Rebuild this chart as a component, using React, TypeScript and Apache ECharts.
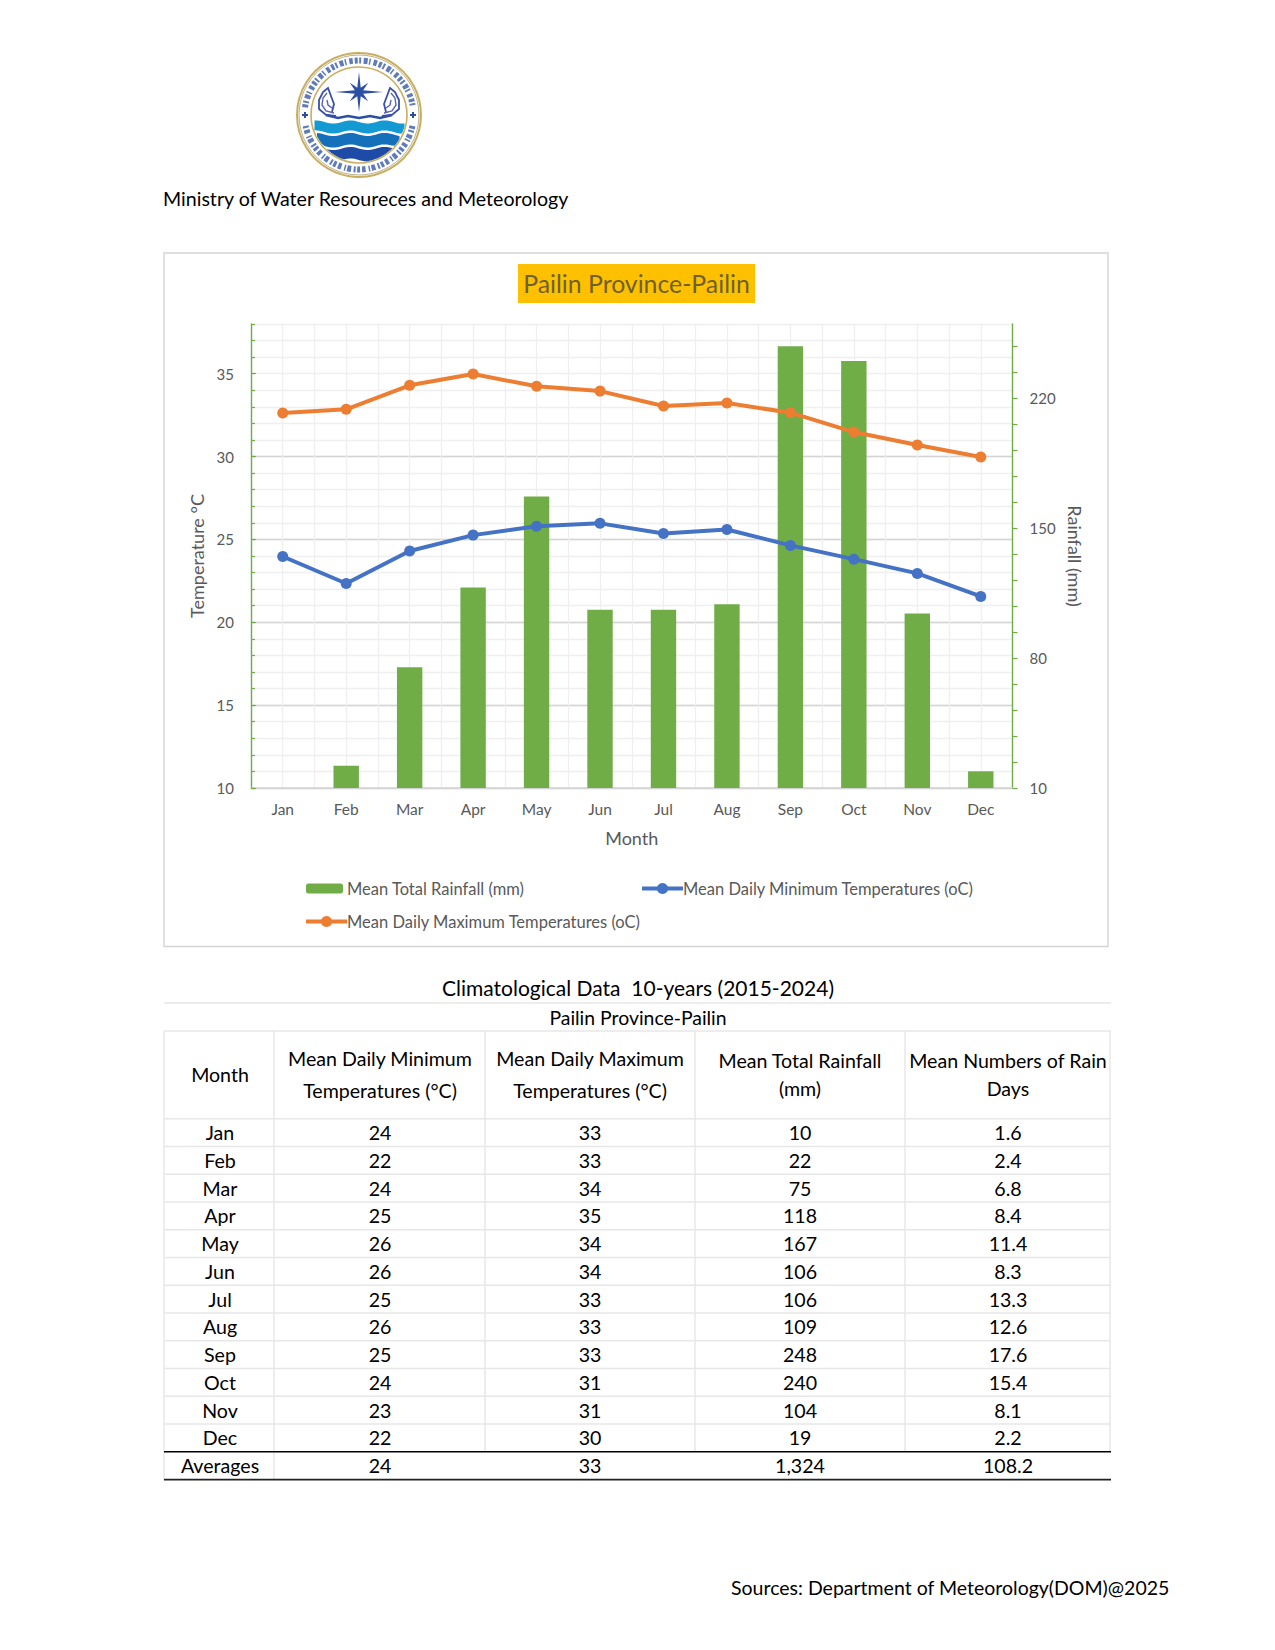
import React, { useEffect, useRef } from "react";
import * as echarts from "echarts";

const FONT = "Lato";
const months = ["Jan", "Feb", "Mar", "Apr", "May", "Jun", "Jul", "Aug", "Sep", "Oct", "Nov", "Dec"];
const rainfall = [10, 22, 75, 118, 167, 106, 106, 109, 248, 240, 104, 19];
const minTemp = [23.97, 22.34, 24.3, 25.26, 25.8, 25.97, 25.36, 25.6, 24.64, 23.81, 22.95, 21.56];
const maxTemp = [32.63, 32.85, 34.3, 34.98, 34.24, 33.95, 33.05, 33.23, 32.65, 31.48, 30.7, 29.97];
const tempLabels = [10, 15, 20, 25, 30, 35];
const rainLabels = [10, 80, 150, 220];
const rainTicks = [10, 24, 38, 52, 66, 80, 94, 108, 122, 136, 150, 164, 178, 192, 206, 220, 234, 248];

const tableMin = ["24", "22", "24", "25", "26", "26", "25", "26", "25", "24", "23", "22"];
const tableMax = ["33", "33", "34", "35", "34", "34", "33", "33", "33", "31", "31", "30"];
const tableRain = ["10", "22", "75", "118", "167", "106", "106", "109", "248", "240", "104", "19"];
const tableDays = ["1.6", "2.4", "6.8", "8.4", "11.4", "8.3", "13.3", "12.6", "17.6", "15.4", "8.1", "2.2"];
const tableAverages = ["Averages", "24", "33", "1,324", "108.2"];

const RAIN_NAME = "Mean Total Rainfall (mm)";
const MIN_NAME = "Mean Daily Minimum Temperatures (oC)";
const MAX_NAME = "Mean Daily Maximum Temperatures (oC)";

const GREEN = "#70AD47";
const ORANGE = "#ED7D31";
const BLUE = "#4472C4";
const GREY = "#595959";
const MAJOR = "#D4D4D4";
const MINOR = "#EFEFEF";
const CELL = "#E7E7E7";

const txt = (text: string, x: number, y: number, size: number, align = "center", fill = "#000000") => ({
  type: "text",
  x,
  y,
  silent: true,
  style: { text, fill, font: `${size}px ${FONT}`, align, verticalAlign: "middle" },
});
const seg = (x1: number, y1: number, x2: number, y2: number, stroke: string, lineWidth: number) => ({
  type: "line",
  silent: true,
  shape: { x1, y1, x2, y2 },
  style: { stroke, lineWidth },
});

function waveBand(top: number, bottom: number, fill: string) {
  const cx = 359;
  const cy = 115;
  const R = 47;
  const upper: number[][] = [];
  const lower: number[][] = [];
  for (let dx = -R; dx <= R; dx += 2.5) {
    const half = Math.sqrt(Math.max(0, R * R - dx * dx));
    const a = Math.max(top + 1.6 * Math.sin(dx / 5.5), cy - half);
    const b = Math.min(bottom + 1.6 * Math.sin(dx / 5.5), cy + half);
    if (a < b) {
      upper.push([cx + dx, a]);
      lower.unshift([cx + dx, b]);
    }
  }
  return { type: "polygon", silent: true, shape: { points: upper.concat(lower) }, style: { fill } };
}

function starPoints(cx: number, cy: number) {
  const pts: number[][] = [];
  for (let i = 0; i < 16; i++) {
    const ang = (i * Math.PI) / 8;
    const rx = i % 4 === 0 ? 24 : i % 2 === 0 ? 13 : 4.5;
    const ry = i % 4 === 0 ? 20 : i % 2 === 0 ? 13 : 4.5;
    pts.push([cx + rx * Math.cos(ang), cy + ry * Math.sin(ang)]);
  }
  return pts;
}

function naga(mirror: boolean) {
  const f = (x: number) => (mirror ? 718 - x : x);
  const shapes = [
    [[336, 116], [326, 115], [319, 109], [319, 100], [323, 92], [328, 88], [331, 96], [334, 104], [332, 112]],
    [[334, 113], [326, 111], [322, 105], [323, 98], [327, 93]],
    [[332, 108], [328, 105], [327, 100]],
  ];
  return shapes.map((pts, i) => ({
    type: "polyline",
    silent: true,
    shape: { points: pts.map((p) => [f(p[0]), p[1]]) },
    style: { stroke: i === 0 ? "#3A4FA8" : "#5A64B8", lineWidth: i === 0 ? 1.8 : 1.4, fill: "none" },
  }));
}

function logo() {
  const cx = 359;
  const cy = 115;
  const navy = "#2B4FA3";
  const plus = (x: number) => [
    { type: "rect", silent: true, shape: { x: x - 3, y: cy - 1, width: 6, height: 2 }, style: { fill: navy } },
    { type: "rect", silent: true, shape: { x: x - 1, y: cy - 3, width: 2, height: 6 }, style: { fill: navy } },
  ];
  const dash = [3, 1.5, 2, 2.5, 4, 1.5, 1.5, 3, 3.5, 2];
  return [
    { type: "circle", silent: true, shape: { cx, cy, r: 62 }, style: { fill: "#fff", stroke: "#C8AE5E", lineWidth: 2 } },
    { type: "circle", silent: true, shape: { cx, cy, r: 60 }, style: { fill: "none", stroke: "#8C7A3C", lineWidth: 0.6 } },
    { type: "arc", silent: true, shape: { cx, cy, r: 54.5, startAngle: -3.0, endAngle: -0.16 }, style: { fill: "none", stroke: navy, lineWidth: 6, lineDash: dash, opacity: 0.75 } },
    { type: "arc", silent: true, shape: { cx, cy, r: 54.5, startAngle: 0.2, endAngle: 2.94 }, style: { fill: "none", stroke: navy, lineWidth: 6, lineDash: dash, opacity: 0.75 } },
    ...plus(cx - 54),
    ...plus(cx + 54),
    { type: "circle", silent: true, shape: { cx, cy, r: 48 }, style: { fill: "#fff", stroke: "#C8AE5E", lineWidth: 1.6 } },
    waveBand(122, 132, "#149AD2"),
    waveBand(134.5, 146, "#1470BA"),
    waveBand(148.5, 160, "#1E4AA8"),
    { type: "polygon", silent: true, shape: { points: starPoints(cx, 92) }, style: { fill: navy } },
    { type: "polyline", silent: true, shape: { points: [[326, 115], [338, 118], [348, 116], [359, 118], [370, 116], [380, 118], [392, 115]] }, style: { stroke: navy, lineWidth: 2.6, fill: "none" } },
    ...naga(false),
    ...naga(true),
  ];
}

function tableGraphics() {
  const cols = [164, 274, 485, 695, 905, 1110];
  const centers = [220, 380, 590, 800, 1008];
  const right = 1111;
  const headerBottom = 1118.7;
  const rowH = 27.75;
  const rowsBottom = headerBottom + rowH * 12;
  const avgBottom = rowsBottom + 28;
  const size = 19.6;
  const out: any[] = [];
  out.push(seg(164, 1003, right, 1003, CELL, 1.5));
  out.push(seg(164, 1031, right, 1031, CELL, 1.5));
  out.push(seg(164, headerBottom, right, headerBottom, CELL, 1.5));
  for (let i = 1; i < 12; i++) out.push(seg(164, headerBottom + rowH * i, right, headerBottom + rowH * i, CELL, 1.5));
  cols.forEach((x, i) => {
    const y2 = i <= 1 ? avgBottom : rowsBottom;
    out.push(seg(x, 1031, x, y2, CELL, 1.5));
  });
  out.push(seg(164, rowsBottom, right, rowsBottom, "#000000", 1.5));
  out.push(seg(164, avgBottom, right, avgBottom, "#222222", 1.8));
  out.push(txt("Month", centers[0], 1074.5, size));
  out.push(txt("Mean Daily Minimum", centers[1], 1058.5, size));
  out.push(txt("Temperatures (°C)", centers[1], 1090.5, size));
  out.push(txt("Mean Daily Maximum", centers[2], 1058.5, size));
  out.push(txt("Temperatures (°C)", centers[2], 1090.5, size));
  out.push(txt("Mean Total Rainfall", centers[3], 1060.5, size));
  out.push(txt("(mm)", centers[3], 1088.5, size));
  out.push(txt("Mean Numbers of Rain", centers[4], 1060.5, size));
  out.push(txt("Days", centers[4], 1088.5, size));
  months.forEach((m, i) => {
    const y = headerBottom + rowH * i + rowH / 2;
    [m, tableMin[i], tableMax[i], tableRain[i], tableDays[i]].forEach((v, c) => out.push(txt(v, centers[c], y, size)));
  });
  tableAverages.forEach((v, c) => out.push(txt(v, centers[c], rowsBottom + 14, size)));
  return out;
}

export default function App() {
  const ref = useRef<HTMLDivElement>(null);
  useEffect(() => {
    const chart = echarts.init(ref.current as HTMLDivElement, undefined, { renderer: "svg" });
    const legendText = { color: GREY, fontFamily: FONT, fontSize: 16.5 };
    chart.setOption({
      animation: false,
      backgroundColor: "#ffffff",
      textStyle: { fontFamily: FONT },
      grid: { left: 251, top: 324, width: 761.5, height: 464, containLabel: false },
      legend: [
        { left: 306, top: 880, padding: 0, itemWidth: 37, itemHeight: 10, itemGap: 0, data: [RAIN_NAME], textStyle: { ...legendText, padding: [0, 0, 0, -1] } },
        { left: 640, top: 880, padding: 0, itemWidth: 41, itemHeight: 14, itemGap: 0, data: [MIN_NAME], lineStyle: { width: 4 }, textStyle: { ...legendText, padding: [0, 0, 0, -5] } },
        { left: 304, top: 913, padding: 0, itemWidth: 41, itemHeight: 14, itemGap: 0, data: [MAX_NAME], lineStyle: { width: 4 }, textStyle: { ...legendText, padding: [0, 0, 0, -5] } },
      ],
      xAxis: [
        {
          type: "value",
          min: 0,
          max: 24,
          interval: 1,
          position: "top",
          axisLine: { show: false },
          axisTick: { show: false },
          axisLabel: { show: false },
          splitLine: { show: true, lineStyle: { color: MINOR, width: 1.3 } },
        },
        {
          type: "category",
          data: months,
          position: "bottom",
          axisLine: { show: true, lineStyle: { color: MAJOR, width: 1.6 } },
          axisTick: { show: false },
          axisLabel: { color: GREY, fontFamily: FONT, fontSize: 15.5, margin: 13 },
          splitLine: { show: false },
          name: "Month",
          nameLocation: "middle",
          nameGap: 41,
          nameTextStyle: { color: GREY, fontFamily: FONT, fontSize: 18 },
        },
      ],
      yAxis: [
        {
          type: "value",
          min: 10,
          max: 38,
          interval: 1,
          position: "left",
          axisLine: { show: false },
          axisLabel: { show: false },
          axisTick: { show: true, inside: true, length: 4, lineStyle: { color: GREEN, width: 1.2 } },
          splitLine: { show: true, lineStyle: { color: MINOR, width: 1.3 } },
        },
        {
          type: "value",
          min: 10,
          max: 38,
          interval: 5,
          position: "left",
          axisLine: { show: true, lineStyle: { color: GREEN, width: 1.4 } },
          axisTick: { show: true, inside: true, length: 5, customValues: tempLabels, lineStyle: { color: GREEN, width: 1.2 } },
          axisLabel: { color: GREY, fontFamily: FONT, fontSize: 15, margin: 17, customValues: tempLabels },
          splitLine: { show: true, showMaxLine: false, lineStyle: { color: MAJOR, width: 1.3 } },
          name: "Temperature °C",
          nameLocation: "middle",
          nameGap: 38,
          nameRotate: 90,
          nameTextStyle: { color: GREY, fontFamily: FONT, fontSize: 18 },
        },
        {
          type: "value",
          min: 10,
          max: 260,
          position: "right",
          axisLine: { show: true, lineStyle: { color: GREEN, width: 1.4 } },
          axisTick: { show: true, length: 5, customValues: rainTicks, lineStyle: { color: GREEN, width: 1.2 } },
          axisLabel: { color: GREY, fontFamily: FONT, fontSize: 15, margin: 17, customValues: rainLabels },
          splitLine: { show: false },
          name: "Rainfall (mm)",
          nameLocation: "middle",
          nameGap: 51,
          nameRotate: -90,
          nameTextStyle: { color: GREY, fontFamily: FONT, fontSize: 18 },
        },
      ],
      series: [
        {
          name: RAIN_NAME,
          type: "bar",
          xAxisIndex: 1,
          yAxisIndex: 2,
          data: rainfall,
          barWidth: 25.4,
          barMinHeight: 1,
          itemStyle: { color: GREEN },
        },
        {
          name: MIN_NAME,
          type: "line",
          xAxisIndex: 1,
          yAxisIndex: 1,
          data: minTemp,
          symbol: "circle",
          symbolSize: 11,
          lineStyle: { color: BLUE, width: 4 },
          itemStyle: { color: BLUE },
        },
        {
          name: MAX_NAME,
          type: "line",
          xAxisIndex: 1,
          yAxisIndex: 1,
          data: maxTemp,
          symbol: "circle",
          symbolSize: 11,
          lineStyle: { color: ORANGE, width: 4 },
          itemStyle: { color: ORANGE },
        },
      ],
      graphic: [
        ...logo(),
        txt("Ministry of Water Resoureces and Meteorology", 163, 198, 19.6, "left"),
        { type: "rect", silent: true, shape: { x: 164, y: 253, width: 944, height: 693.5 }, style: { fill: "none", stroke: MAJOR, lineWidth: 1.4 } },
        { type: "rect", silent: true, shape: { x: 518, y: 264, width: 237, height: 39 }, style: { fill: "#FFC000" } },
        txt("Pailin Province-Pailin", 636.5, 283, 24.8, "center", "#6E6030"),
        txt("Climatological Data  10-years (2015-2024)", 638, 987.5, 21),
        txt("Pailin Province-Pailin", 638, 1017, 19.4),
        ...tableGraphics(),
        txt("Sources: Department of Meteorology(DOM)@2025", 731, 1587, 19.5, "left"),
      ],
    });
    return () => chart.dispose();
  }, []);
  return <div ref={ref} style={{ position: "absolute", left: 0, top: 0, width: 1275, height: 1650 }} />;
}
